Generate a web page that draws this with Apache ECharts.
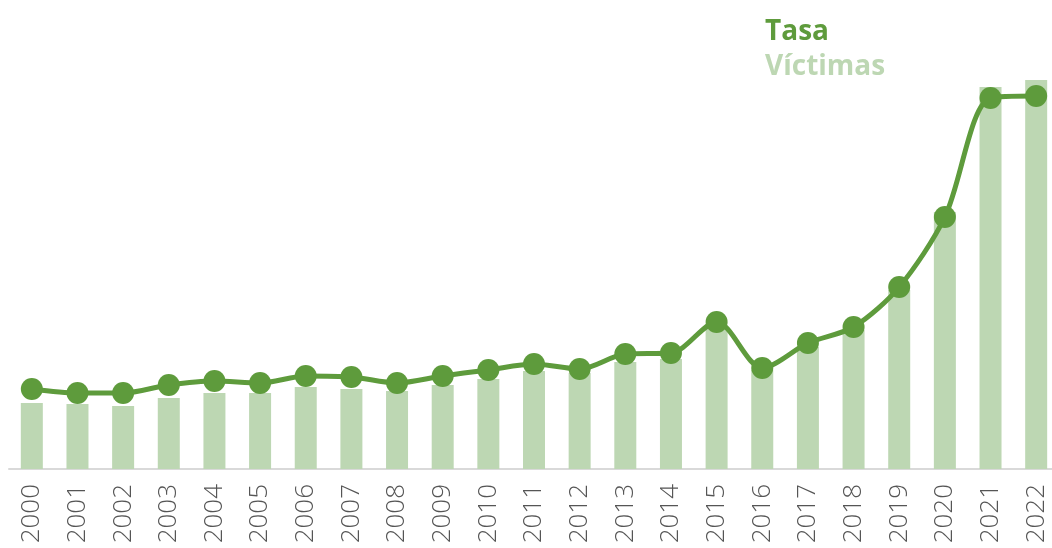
<!DOCTYPE html>
<html>
<head>
<meta charset="utf-8">
<script src="https://cdn.jsdelivr.net/npm/echarts@6/dist/echarts.min.js"></script>
<style>
  html, body { margin: 0; padding: 0; background: #fff; }
  #chart { width: 1052px; height: 548px; }
</style>
</head>
<body>
<div id="chart"></div>
<script>
// datos
const years = ['2000', '2001', '2002', '2003', '2004', '2005', '2006', '2007', '2008', '2009', '2010', '2011',
  '2012', '2013', '2014', '2015', '2016', '2017', '2018', '2019', '2020', '2021', '2022'];
const victimas = [660, 650, 630, 710, 760, 760, 820, 800, 780, 840, 900, 980,
  960, 1070, 1100, 1420, 990, 1220, 1390, 1790, 2570, 3820, 3890];
const tasa = [4.0, 3.8, 3.8, 4.2, 4.4, 4.3, 4.65, 4.6, 4.3, 4.65, 4.95, 5.25,
  5.0, 5.75, 5.8, 7.35, 5.05, 6.3, 7.1, 9.1, 12.6, 18.55, 18.65];

const darkGreen = '#5e9b3c';
const lightGreen = '#bdd7b3';

const chart = echarts.init(document.getElementById('chart'));

const option = {
  animation: false,
  legend: {
    orient: 'vertical',
    left: 755,
    top: 13,
    itemWidth: 0,
    itemHeight: 0,
    itemGap: 7,
    selectedMode: false,
    textStyle: { fontFamily: 'Open Sans', fontSize: 28, fontWeight: 'bold', lineHeight: 28 },
    data: [
      { name: 'Tasa', icon: 'rect', textStyle: { color: darkGreen } },
      { name: 'Víctimas', icon: 'rect', textStyle: { color: lightGreen } }
    ]
  },
  grid: {
    left: 9,
    top: 69,
    width: 1050,
    height: 400,
    outerBoundsMode: 'none'
  },
  xAxis: {
    type: 'category',
    data: years,
    axisLine: { lineStyle: { color: '#d9d9d9', width: 2 } },
    axisTick: { show: false },
    axisLabel: {
      rotate: 90,
      margin: 15,
      color: '#555',
      fontFamily: 'Open Sans',
      fontWeight: 300,
      fontSize: 26
    }
  },
  yAxis: [
    { type: 'value', min: 0, max: 4000, show: false },
    { type: 'value', min: 0, max: 20, show: false }
  ],
  series: [
    {
      name: 'Víctimas',
      type: 'bar',
      data: victimas,
      barWidth: 22,
      itemStyle: { color: lightGreen }
    },
    {
      name: 'Tasa',
      type: 'line',
      yAxisIndex: 1,
      data: tasa,
      smooth: 0.3,
      symbol: 'circle',
      symbolSize: 22,
      lineStyle: { color: darkGreen, width: 5 },
      itemStyle: { color: darkGreen }
    }
  ]
};

chart.setOption(option);
</script>
</body>
</html>
